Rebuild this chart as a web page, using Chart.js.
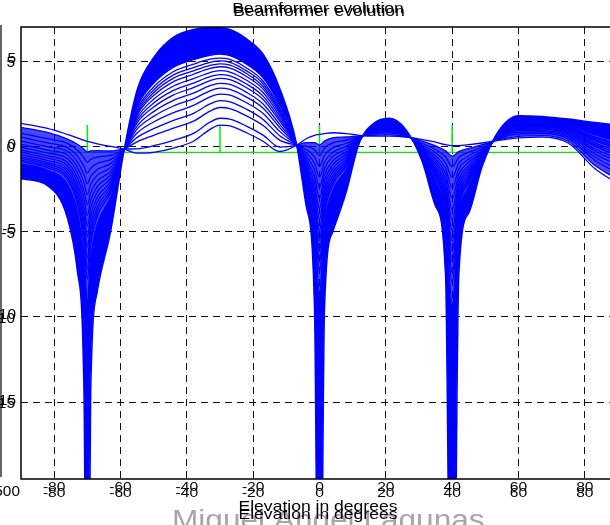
<!DOCTYPE html>
<html>
<head>
<meta charset="utf-8">
<script src="https://cdn.jsdelivr.net/npm/chart.js@4.4.0/dist/chart.umd.min.js"></script>
<style>
  html, body { margin: 0; padding: 0; overflow: hidden; background: #fff; }
  canvas { display: block; }
</style>
</head>
<body>
<canvas id="chart" width="620" height="525"></canvas>
<script>
// elevation grid (degrees) shared by every pass of the beamformer
const elevation = [-90,-82,-76,-73,-71,-70,-69,-67,-63,-59,-55,-50,-44,-38,-33,-30,-27,-22,-17,-12,-7,-4,-1.5,0,1.5,4,8,12,16,21,26,31,35,38,40,42,45,49,54,60,67,75,83,90];

// first pass (quiescent pattern)
const initialGain = [1.35,1.05,0.7,0.5,0.35,0.3,0.25,0.15,0.0,-0.15,-0.4,-0.35,-0.1,0.3,1.0,1.25,1.2,0.8,0.3,-0.3,0.05,0.45,0.65,0.7,0.75,0.8,0.75,0.65,0.6,0.6,0.55,0.4,0.25,0.1,0.05,0.05,0.1,0.2,0.35,0.5,0.55,0.2,-1.3,-2.2];
// intermediate passes
const sweep01 = [1.12,0.82,0.43,0.13,-0.17,-0.33,-0.26,-0.25,-0.27,-0.16,-0.14,0.04,0.36,0.76,1.42,1.65,1.6,1.19,0.66,-0.04,0.06,0.22,0.22,0.08,0.32,0.5,0.55,0.62,0.65,0.67,0.58,0.31,0.03,-0.26,-0.57,-0.31,-0.12,0.1,0.39,0.59,0.63,0.3,-1.11,-1.96];
const sweep02 = [0.77,0.45,0.18,-0.23,-0.67,-0.94,-0.77,-0.63,-0.53,-0.18,0.27,0.65,1.07,1.48,2.07,2.28,2.22,1.79,1.22,0.37,0.08,0.01,-0.19,-0.55,-0.1,0.21,0.36,0.57,0.73,0.79,0.63,0.17,-0.18,-0.61,-1.19,-0.66,-0.34,-0.05,0.45,0.73,0.77,0.45,-0.81,-1.58];
const sweep03 = [0.54,0.21,-0.07,-0.57,-1.17,-1.58,-1.27,-1.0,-0.78,-0.19,0.53,1.04,1.53,1.94,2.49,2.68,2.61,2.18,1.58,0.63,0.09,-0.19,-0.61,-1.17,-0.52,-0.08,0.17,0.54,0.78,0.86,0.66,0.07,-0.37,-0.95,-1.82,-0.99,-0.55,-0.15,0.49,0.83,0.85,0.55,-0.62,-1.34];
const sweep04 = [0.31,-0.02,-0.3,-0.91,-1.66,-2.19,-1.76,-1.36,-1.01,-0.2,0.78,1.43,1.98,2.4,2.9,3.07,3.01,2.56,1.93,0.88,0.1,-0.39,-1.0,-1.8,-0.92,-0.35,0.0,0.51,0.82,0.94,0.69,-0.02,-0.56,-1.28,-2.44,-1.32,-0.74,-0.25,0.53,0.92,0.93,0.65,-0.44,-1.1];
const sweep05 = [0.12,-0.22,-0.52,-1.23,-2.14,-2.82,-2.24,-1.7,-1.24,-0.21,1.01,1.76,2.37,2.79,3.26,3.42,3.35,2.89,2.24,1.11,0.11,-0.57,-1.39,-2.41,-1.31,-0.59,-0.17,0.48,0.87,1.0,0.72,-0.09,-0.73,-1.59,-3.06,-1.64,-0.93,-0.33,0.56,0.99,1.01,0.73,-0.27,-0.89];
const sweep06 = [-0.05,-0.39,-0.73,-1.54,-2.62,-3.44,-2.71,-2.04,-1.46,-0.21,1.19,2.04,2.7,3.12,3.56,3.7,3.63,3.17,2.49,1.29,0.11,-0.75,-1.77,-3.04,-1.69,-0.85,-0.32,0.46,0.9,1.05,0.74,-0.16,-0.9,-1.89,-3.69,-1.94,-1.11,-0.4,0.59,1.06,1.07,0.8,-0.14,-0.72];
const sweep07 = [-0.21,-0.56,-0.94,-1.84,-3.07,-4.05,-3.17,-2.36,-1.66,-0.22,1.38,2.31,3.02,3.44,3.86,3.99,3.91,3.44,2.75,1.48,0.12,-0.92,-2.14,-3.65,-2.05,-1.08,-0.46,0.43,0.94,1.1,0.77,-0.22,-1.06,-2.19,-4.29,-2.23,-1.28,-0.47,0.61,1.12,1.13,0.87,0.0,-0.54];
const sweep08 = [-0.34,-0.69,-1.12,-2.13,-3.53,-4.67,-3.62,-2.67,-1.86,-0.23,1.52,2.54,3.28,3.71,4.09,4.21,4.14,3.66,2.95,1.62,0.13,-1.07,-2.49,-4.28,-2.41,-1.3,-0.6,0.42,0.96,1.15,0.78,-0.28,-1.21,-2.48,-4.91,-2.51,-1.44,-0.53,0.64,1.18,1.17,0.93,0.1,-0.41];
const sweep09 = [-0.47,-0.83,-1.31,-2.41,-3.99,-5.3,-4.08,-2.99,-2.05,-0.23,1.67,2.76,3.54,3.97,4.33,4.44,4.36,3.88,3.16,1.77,0.13,-1.23,-2.84,-4.91,-2.76,-1.51,-0.73,0.4,0.99,1.19,0.8,-0.33,-1.35,-2.75,-5.55,-2.78,-1.6,-0.58,0.66,1.23,1.22,0.98,0.21,-0.27];
const sweep10 = [-0.6,-0.96,-1.48,-2.68,-4.42,-5.92,-4.51,-3.27,-2.23,-0.24,1.82,2.98,3.8,4.23,4.57,4.67,4.59,4.1,3.36,1.92,0.14,-1.37,-3.16,-5.51,-3.1,-1.72,-0.86,0.38,1.02,1.23,0.82,-0.38,-1.48,-3.0,-6.16,-3.04,-1.73,-0.64,0.68,1.28,1.27,1.04,0.32,-0.13];
const sweep11 = [-0.7,-1.06,-1.65,-2.93,-4.85,-6.54,-4.94,-3.56,-2.39,-0.24,1.93,3.15,4.0,4.43,4.75,4.84,4.76,4.27,3.51,2.03,0.14,-1.5,-3.49,-6.14,-3.41,-1.92,-0.97,0.37,1.04,1.26,0.83,-0.42,-1.62,-3.25,-6.78,-3.29,-1.87,-0.68,0.7,1.32,1.31,1.08,0.4,-0.03];
const sweep12 = [-0.8,-1.16,-1.81,-3.17,-5.27,-7.17,-5.35,-3.82,-2.56,-0.25,2.04,3.31,4.19,4.62,4.93,5.01,4.93,4.43,3.67,2.14,0.15,-1.63,-3.8,-6.76,-3.73,-2.1,-1.09,0.35,1.06,1.29,0.85,-0.46,-1.73,-3.49,-7.41,-3.53,-2.0,-0.72,0.71,1.36,1.34,1.12,0.48,0.08];
const sweep13 = [-0.89,-1.26,-1.95,-3.4,-5.68,-7.77,-5.76,-4.08,-2.71,-0.25,2.15,3.48,4.39,4.82,5.11,5.18,5.1,4.6,3.82,2.25,0.15,-1.74,-4.1,-7.37,-4.03,-2.27,-1.19,0.34,1.08,1.32,0.86,-0.5,-1.85,-3.72,-8.02,-3.76,-2.11,-0.77,0.73,1.4,1.38,1.17,0.56,0.18];
const sweep14 = [-1.02,-1.4,-2.23,-3.84,-6.47,-9.0,-6.54,-4.55,-2.97,-0.26,2.3,3.7,4.65,5.08,5.34,5.41,5.32,4.82,4.02,2.4,0.16,-1.96,-4.66,-8.59,-4.6,-2.59,-1.38,0.32,1.11,1.37,0.88,-0.55,-2.05,-4.14,-9.22,-4.17,-2.34,-0.82,0.75,1.45,1.43,1.22,0.67,0.32];
// converged pattern
const finalGain = [-1.9,-2.3,-4.2,-7.3,-14.5,-40,-14.5,-8.5,-5.0,-0.3,3.3,5.2,6.4,6.85,6.95,6.95,6.85,6.3,5.4,3.4,0.2,-3.5,-9.5,-40,-9.5,-5.0,-2.7,0.2,1.3,1.65,1.0,-0.9,-3.5,-7.5,-40,-7.5,-3.9,-1.2,0.9,1.8,1.75,1.6,1.4,1.25];

// source directions (green stems)
const sourceAngles = [-70, -30, 0, 40];
const stemTop = 1.25;
const stemBase = -0.35;

// stretches where the many later passes pile up into a dense fan
const denseSpans = [[-90, -59], [-7, 90]];

const xTicks = [-80, -60, -40, -20, 0, 20, 40, 60, 80];
const yTicks = [-15, -10, -5, 0, 5];

const passes = [initialGain, sweep01, sweep02, sweep03, sweep04, sweep05, sweep06, sweep07,
                sweep08, sweep09, sweep10, sweep11, sweep12, sweep13, sweep14];

const toPoints = g => elevation.map((x, i) => ({ x: x, y: g[i] }));

const datasets = passes.map(g => ({
    data: toPoints(g),
    borderColor: '#0000ff',
    borderWidth: 1.3,
    pointRadius: 0,
    cubicInterpolationMode: 'monotone',
    fill: false,
    order: 1
}));
// converged one, band down to last sweep filled solid
datasets.push({
    data: toPoints(finalGain),
    borderColor: '#0000ff',
    backgroundColor: '#0000ff',
    borderWidth: 1.5,
    pointRadius: 0,
    cubicInterpolationMode: 'monotone',
    fill: '-1',
    order: 1
});
// dense fans between first sweep and last sweep
denseSpans.forEach(([lo, hi]) => {
    const pick = g => toPoints(g).filter(p => p.x >= lo && p.x <= hi);
    datasets.push({
        data: pick(sweep01), borderColor: 'rgba(0,0,0,0)', borderWidth: 1,
        pointRadius: 0, cubicInterpolationMode: 'monotone', fill: false, order: 2
    });
    datasets.push({
        data: pick(sweep14), borderColor: 'rgba(0,0,0,0)', borderWidth: 1,
        backgroundColor: 'rgba(0,0,255,0.72)',
        pointRadius: 0, cubicInterpolationMode: 'monotone', fill: '-1', order: 2
    });
});
datasets.push({
    data: [{ x: -90, y: stemBase }, { x: 90, y: stemBase }],
    borderColor: '#00ee00', borderWidth: 1.3, pointRadius: 0, fill: false, order: 3
});
sourceAngles.forEach(a => {
    datasets.push({
        data: [{ x: a, y: stemBase }, { x: a, y: stemTop }],
        borderColor: '#00ee00', borderWidth: 1.5, pointRadius: 0, fill: false, order: 3
    });
});

function stamp(ctx, text, x, y, sx) {
    ctx.save();
    ctx.translate(x, y);
    ctx.scale(sx, 1);
    ctx.fillText(text, 0, 0);
    ctx.restore();
}

const decor = {
    id: 'decor',
    beforeDraw(chart) {
        const ctx = chart.ctx;
        ctx.save();
        ctx.fillStyle = '#fff';
        ctx.fillRect(0, 0, chart.width, chart.height);
        ctx.restore();
    },
    afterDatasetsDraw(chart) {
        const { ctx, chartArea: a } = chart;
        ctx.save();
        ctx.strokeStyle = '#000';
        ctx.lineWidth = 1.5;
        ctx.strokeRect(a.left, a.top, a.right - a.left, a.bottom - a.top);
        // frame edge of the figure
        ctx.lineWidth = 1.2;
        ctx.beginPath();
        ctx.moveTo(1, 25);
        ctx.lineTo(1, 477);
        ctx.stroke();
        ctx.restore();
    },
    afterDraw(chart) {
        const ctx = chart.ctx;
        const xs = chart.scales.x, ys = chart.scales.y;
        ctx.save();
        // watermark
        ctx.fillStyle = '#a6a6a6';
        ctx.font = '27px "Liberation Sans", Arial, sans-serif';
        ctx.textAlign = 'left';
        ctx.textBaseline = 'alphabetic';
        stamp(ctx, 'Miguel Angel Lagunas', 172, 529, 1.17);

        ctx.fillStyle = '#000';
        // title, drawn twice
        ctx.font = '15px "Liberation Sans", Arial, sans-serif';
        ctx.textAlign = 'center';
        stamp(ctx, 'Beamformer evolution', 318, 13, 1.17);
        stamp(ctx, 'Beamformer evolution', 319, 16, 1.17);
        // axis label, drawn twice
        stamp(ctx, 'Elevation in degrees', 318, 511, 1.17);
        stamp(ctx, 'Elevation in degrees', 318, 519, 1.17);

        // x tick labels
        ctx.font = '13px "Liberation Sans", Arial, sans-serif';
        xTicks.forEach(v => {
            const px = xs.getPixelForValue(v);
            stamp(ctx, String(v), px, 491, 1.2);
            stamp(ctx, String(v), px, 497, 1.2);
        });
        // y tick labels
        ctx.font = '14px "Liberation Sans", Arial, sans-serif';
        ctx.textAlign = 'right';
        ctx.textBaseline = 'middle';
        yTicks.forEach(v => {
            const py = ys.getPixelForValue(v);
            stamp(ctx, String(v), 16, py - 1.5, 1.1);
            stamp(ctx, String(v), 15, py + 2, 1.1);
        });
        ctx.textBaseline = 'alphabetic';
        stamp(ctx, '-500', 20, 496, 1.1);
        ctx.restore();
    }
};

new Chart(document.getElementById('chart').getContext('2d'), {
    type: 'line',
    data: { datasets: datasets },
    options: {
        responsive: false,
        animation: false,
        events: [],
        layout: { padding: { top: 27, right: 2, left: 0, bottom: 0 } },
        plugins: { legend: { display: false }, tooltip: { enabled: false }, title: { display: false } },
        scales: {
            x: {
                type: 'linear', min: -90, max: 90,
                afterBuildTicks: ax => { ax.ticks = xTicks.map(v => ({ value: v })); },
                afterFit: ax => { ax.height = 46; },
                ticks: { display: false },
                grid: { color: '#111', lineWidth: 1, drawTicks: false },
                border: { display: false, dash: [7, 5] }
            },
            y: {
                type: 'linear', min: -19.5, max: 7,
                afterBuildTicks: ax => { ax.ticks = yTicks.map(v => ({ value: v })); },
                afterFit: ax => { ax.width = 21; },
                ticks: { display: false },
                grid: { color: '#111', lineWidth: 1, drawTicks: false },
                border: { display: false, dash: [7, 5] }
            }
        }
    },
    plugins: [decor]
});
</script>
</body>
</html>
